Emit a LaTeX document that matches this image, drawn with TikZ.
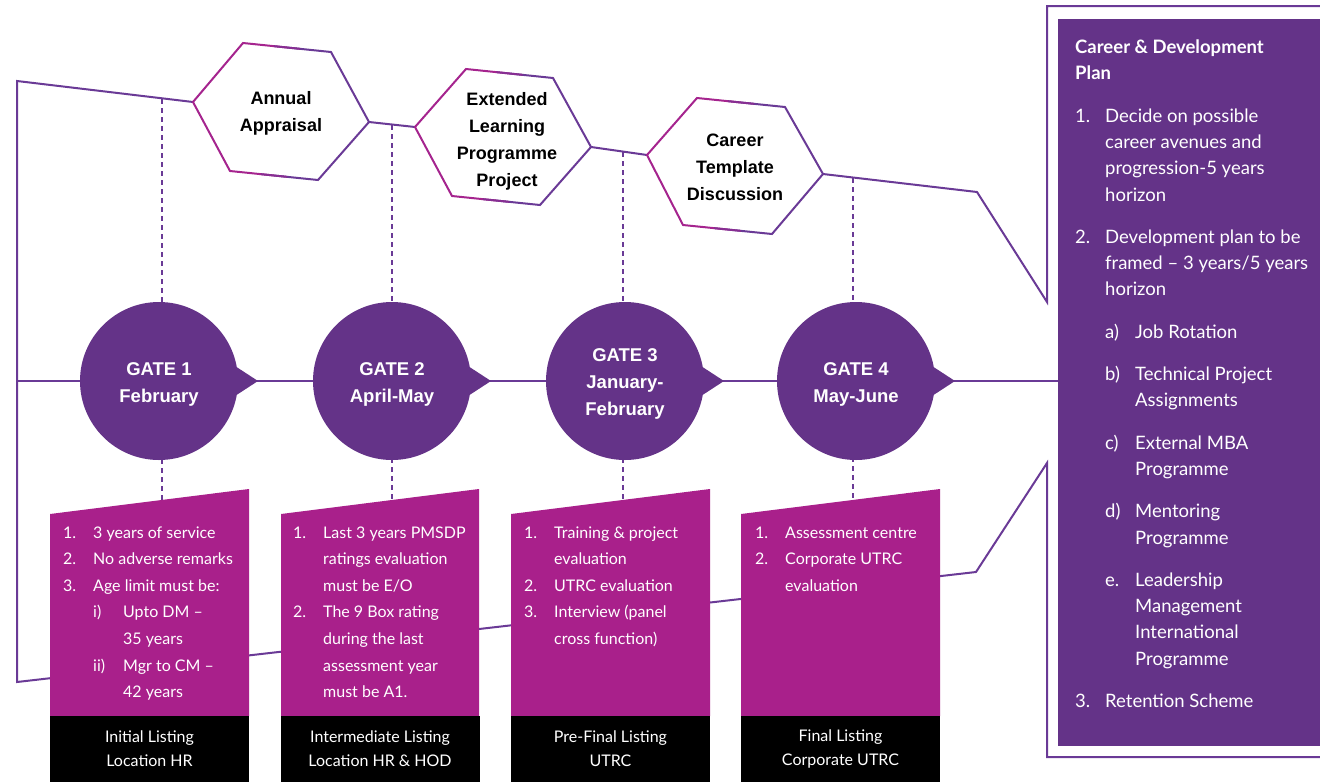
\documentclass[tikz,border=0pt]{standalone}
\usepackage{fontspec}
\setmainfont{Lato}
\newfontfamily\hfont{Liberation Sans}
\usetikzlibrary{calc}
\definecolor{cpurple}{RGB}{100,51,136}
\definecolor{cmag}{RGB}{169,32,139}
\definecolor{cline}{RGB}{106,58,150}
\definecolor{chexl}{RGB}{165,36,142}
\definecolor{chexm}{RGB}{135,46,146}
\newcommand{\nl}[1]{\makebox[30pt][l]{#1}}
\newcommand{\ind}{\hspace*{30pt}}
\begin{document}
\begin{tikzpicture}[x=1pt,y=-1pt,
  outline/.style={draw=cline, line width=2pt, line join=miter},
  vdash/.style={draw=cline, line width=2pt, dash pattern=on 5pt off 4pt},
  gate/.style={circle, fill=cpurple, minimum size=158pt, inner sep=0pt, text=white,
    font=\hfont\bfseries\fontsize{18.5}{27}\selectfont, align=center},
  gtext/.style={text=white, font=\hfont\bfseries\fontsize{18.5}{27}\selectfont, align=center},
  hexlabel/.style={font=\hfont\bfseries\fontsize{18}{27}\selectfont, align=center, text=black},
  boxtext/.style={text=white, font=\fontsize{16}{26.6}\selectfont, anchor=base west, inner sep=0pt},
  lbox/.style={fill=black, text=white, minimum width=199pt, minimum height=66pt, inner sep=0pt,
    font=\fontsize{16}{24}\selectfont, align=center},
  hexL/.style={draw=chexl, line width=2pt, line join=miter},
  hexM/.style={draw=chexm, line width=2pt},
  hexR/.style={draw=cline, line width=2pt, line join=miter},
  panel/.style={text=white, font=\fontsize{18.5}{26.3}\selectfont, anchor=base west, inner sep=0pt}
]
\useasboundingbox (0,0) rectangle (1320,782);

% hexagon vertices
\coordinate (h1L) at (193,102); \coordinate (h1TL) at (243,43); \coordinate (h1TR) at (331,52);
\coordinate (h1R) at (369,122); \coordinate (h1BR) at (318,180); \coordinate (h1BL) at (230,171);
\coordinate (h2L) at (415,127); \coordinate (h2TL) at (466,69); \coordinate (h2TR) at (553,78);
\coordinate (h2R) at (591,147); \coordinate (h2BR) at (540,205); \coordinate (h2BL) at (452,196);
\coordinate (h3L) at (647,155); \coordinate (h3TL) at (697,98); \coordinate (h3TR) at (785,107);
\coordinate (h3R) at (823,174); \coordinate (h3BR) at (772,234); \coordinate (h3BL) at (683,225);

% frame corners
\coordinate (tl) at (17,81); \coordinate (bl) at (17,682);
\coordinate (tk) at (977,192); \coordinate (tf) at (1047,302); \coordinate (ft) at (1047,6); \coordinate (fte) at (1320,6);
\coordinate (bk) at (976,572); \coordinate (bf) at (1047,463); \coordinate (fb) at (1047,757); \coordinate (fbe) at (1320,757);

% outline
\draw[outline] (h1L) -- (tl) -- (bl) -- (bk) -- (bf) -- (fb) -- (fbe);
\draw[outline] (h1R) -- (h2L);
\draw[outline] (h2R) -- (h3L);
\draw[outline] (h3R) -- (tk) -- (tf) -- (ft) -- (fte);

% hexagons
\foreach \h in {h1,h2,h3}{
  \draw[hexL] ($(\h TL)!0.5!(\h TR)$) -- (\h TL) -- (\h L) -- (\h BL) -- ($(\h BL)!0.5!(\h BR)$);
  \draw[hexR] ($(\h TL)!0.5!(\h TR)$) -- (\h TR) -- (\h R) -- (\h BR) -- ($(\h BL)!0.5!(\h BR)$);
  \draw[hexM] ($(\h TL)!0.35!(\h TR)$) -- ($(\h TL)!0.65!(\h TR)$);
  \draw[hexM] ($(\h BL)!0.35!(\h BR)$) -- ($(\h BL)!0.65!(\h BR)$);
}
\node[hexlabel] (hx1) at (281,113) {Annual\\Appraisal};
\node[hexlabel] (hx2) at (507,141) {Extended\\Learning\\Programme\\Project};
\node[hexlabel] (hx3) at (735,167) {Career\\Template\\Discussion};

% gate line
\coordinate (gs) at (17,381); \coordinate (ge) at (1058,381);
\draw[outline] (gs) -- (ge);

% dashed connectors
\coordinate (d1t) at (162,99);  \coordinate (d1b) at (162,501);
\coordinate (d2t) at (392,125); \coordinate (d2b) at (392,501);
\coordinate (d3t) at (623,152); \coordinate (d3b) at (623,501);
\coordinate (d4t) at (853,178); \coordinate (d4b) at (853,501);
\draw[vdash] (d1t) -- (d1b);
\draw[vdash] (d2t) -- (d2b);
\draw[vdash] (d3t) -- (d3b);
\draw[vdash] (d4t) -- (d4b);

% gates
\node[gate] (g1) at (159,381) {};
\node[gate] (g2) at (392,381) {};
\node[gate] (g3) at (625,381) {};
\node[gate] (g4) at (856,381) {};
\foreach \g in {g1,g2,g3,g4}{
  \fill[cpurple] (\g.center) ++(76,-15) -- ++(23,15) -- ++(-23,15) -- cycle;
}
\node[gtext] at (159,384) {GATE 1\\February};
\node[gtext] at (392,384) {GATE 2\\April-May};
\node[gtext] at (625,384) {GATE 3\\January-\\February};
\node[gtext] at (856,384) {GATE 4\\May-June};

% magenta boxes
\fill[cmag] (50,514) -- (249,489) -- (249,716) -- (50,716) -- cycle;
\fill[cmag] (281,514) -- (479,489) -- (479,716) -- (281,716) -- cycle;
\fill[cmag] (511,514) -- (710,489) -- (710,716) -- (511,716) -- cycle;
\fill[cmag] (741,514) -- (940,489) -- (940,716) -- (741,716) -- cycle;

\node[boxtext] (b1) at (63,538) {\begin{tabular}[t]{@{}l@{}}
\nl{1.}3 years of service\\
\nl{2.}No adverse remarks\\
\nl{3.}Age limit must be:\\
\ind\nl{i)}Upto DM –\\
\ind\ind 35 years\\
\ind\nl{ii)}Mgr to CM –\\
\ind\ind 42 years
\end{tabular}};
\node[boxtext] (b2) at (293,538) {\begin{tabular}[t]{@{}l@{}}
\nl{1.}Last 3 years PMSDP\\
\ind ratings evaluation\\
\ind must be E/O\\
\nl{2.}The 9 Box rating\\
\ind during the last\\
\ind assessment year\\
\ind must be A1.
\end{tabular}};
\node[boxtext] (b3) at (524,538) {\begin{tabular}[t]{@{}l@{}}
\nl{1.}Training \& project\\
\ind evaluation\\
\nl{2.}UTRC evaluation\\
\nl{3.}Interview (panel\\
\ind cross function)
\end{tabular}};
\node[boxtext] (b4) at (755,538) {\begin{tabular}[t]{@{}l@{}}
\nl{1.}Assessment centre\\
\nl{2.}Corporate UTRC\\
\ind evaluation
\end{tabular}};

% black listing boxes
\node[lbox] (l1) at (149.5,749) {Initial Listing\\Location HR};
\node[lbox] (l2) at (380,749) {Intermediate Listing\\Location HR \& HOD};
\node[lbox] (l3) at (610.5,749) {Pre-Final Listing\\UTRC};
\node[lbox] (l4) at (840.5,749) {Final Listing\\Corporate UTRC};

% right panel
\fill[cpurple] (1058,19) rectangle (1320,746);
\node[panel] (p) at (1075,53) {\begin{tabular}[t]{@{}l@{}}
\textbf{Career \& Development}\\
\textbf{Plan}\\[16.5pt]
\nl{1.}Decide on possible\\
\ind career avenues and\\
\ind progression-5 years\\
\ind horizon\\[16pt]
\nl{2.}Development plan to be\\
\ind framed – 3 years/5 years\\
\ind horizon\\[16pt]
\ind\nl{a)}Job Rotation\\[16pt]
\ind\nl{b)}Technical Project\\
\ind\ind Assignments\\[16pt]
\ind\nl{c)}External MBA\\
\ind\ind Programme\\[16pt]
\ind\nl{d)}Mentoring\\
\ind\ind Programme\\[16pt]
\ind\nl{e.}Leadership\\
\ind\ind Management\\
\ind\ind International\\
\ind\ind Programme\\[16pt]
\nl{3.}Retention Scheme
\end{tabular}};
\end{tikzpicture}
\end{document}
